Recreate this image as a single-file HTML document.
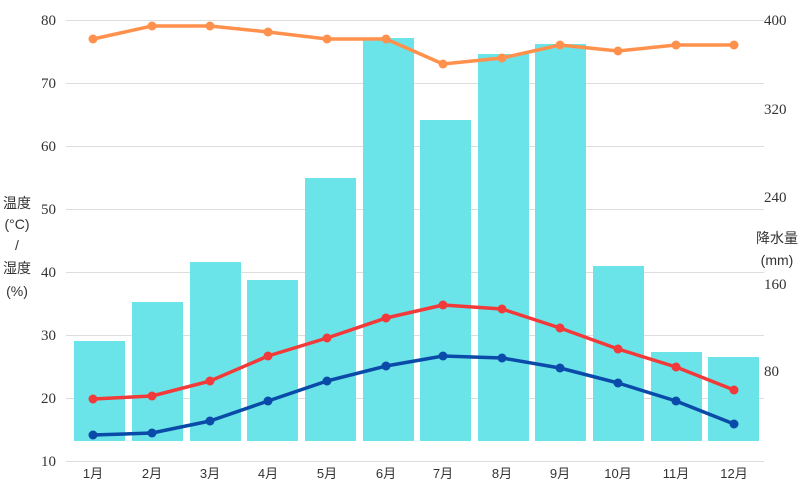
<!DOCTYPE html>
<html><head><meta charset="utf-8"><style>
body{margin:0;background:#fff;}
svg text{font-family:"Liberation Serif","Noto Serif CJK SC",serif;fill:#333;}
.cjk{font-family:"Liberation Sans","Noto Sans CJK JP",sans-serif !important;}
</style></head><body>
<svg width="800" height="494" viewBox="0 0 800 494" xmlns="http://www.w3.org/2000/svg">
<g stroke="#ddd" stroke-width="1">
<line x1="66" x2="764" y1="20.5" y2="20.5"/><line x1="66" x2="764" y1="83.5" y2="83.5"/>
<line x1="66" x2="764" y1="146.5" y2="146.5"/><line x1="66" x2="764" y1="209.5" y2="209.5"/>
<line x1="66" x2="764" y1="272.5" y2="272.5"/><line x1="66" x2="764" y1="335.5" y2="335.5"/>
<line x1="66" x2="764" y1="398.5" y2="398.5"/><line x1="66" x2="764" y1="461.5" y2="461.5"/>
</g>
<g font-size="15" text-anchor="end">
<text x="56" y="25">80</text><text x="56" y="88">70</text><text x="56" y="151">60</text>
<text x="56" y="214">50</text><text x="56" y="277">40</text><text x="56" y="340">30</text>
<text x="56" y="403">20</text><text x="56" y="466">10</text>
</g>
<g font-size="15">
<text x="764" y="25">400</text><text x="764" y="114">320</text><text x="764" y="202">240</text>
<text x="764" y="289">160</text><text x="764" y="376">80</text>
</g>
<g font-size="14" text-anchor="middle" class="cjk">
<text x="17" y="208" class="cjk">温度</text><text x="17" y="229" class="cjk">(°C)</text>
<text x="17" y="250" class="cjk">/</text><text x="17" y="273" class="cjk">湿度</text>
<text x="17" y="296" class="cjk">(%)</text>
<text x="777" y="243" class="cjk">降水量</text><text x="777" y="265" class="cjk">(mm)</text>
</g>
<g fill="#6ae4e8">
<rect x="74" y="341" width="51" height="100"/><rect x="132" y="302" width="51" height="139"/>
<rect x="190" y="262" width="51" height="179"/><rect x="247" y="280" width="51" height="161"/>
<rect x="305" y="178" width="51" height="263"/><rect x="363" y="38" width="51" height="403"/>
<rect x="420" y="120" width="51" height="321"/><rect x="478" y="54" width="51" height="387"/>
<rect x="535" y="44" width="51" height="397"/><rect x="593" y="266" width="51" height="175"/>
<rect x="651" y="352" width="51" height="89"/><rect x="708" y="357" width="51" height="84"/>
</g>
<g font-size="13" text-anchor="middle">
<text x="93" y="478" class="cjk">1月</text><text x="152" y="478" class="cjk">2月</text>
<text x="210" y="478" class="cjk">3月</text><text x="268" y="478" class="cjk">4月</text>
<text x="327" y="478" class="cjk">5月</text><text x="386" y="478" class="cjk">6月</text>
<text x="443" y="478" class="cjk">7月</text><text x="502" y="478" class="cjk">8月</text>
<text x="560" y="478" class="cjk">9月</text><text x="618" y="478" class="cjk">10月</text>
<text x="676" y="478" class="cjk">11月</text><text x="734" y="478" class="cjk">12月</text>
</g>
<g fill="none" stroke-width="3.5" stroke-linejoin="round">
<polyline stroke="#ff914d" points="93,39 152,26 210,26 268,32 327,39 386,39 443,64 502,58 560,45 618,51 676,45 734,45"/>
<polyline stroke="#f23a3a" points="93,399 152,396 210,381 268,356 327,338 386,318 443,305 502,309 560,328 618,349 676,367 734,390"/>
<polyline stroke="#0a4aa8" points="93,435 152,433 210,421 268,401 327,381 386,366 443,356 502,358 560,368 618,383 676,401 734,424"/>
</g>
<g fill="#ff914d">
<circle cx="93" cy="39" r="4.5"/><circle cx="152" cy="26" r="4.5"/><circle cx="210" cy="26" r="4.5"/><circle cx="268" cy="32" r="4.5"/><circle cx="327" cy="39" r="4.5"/><circle cx="386" cy="39" r="4.5"/><circle cx="443" cy="64" r="4.5"/><circle cx="502" cy="58" r="4.5"/><circle cx="560" cy="45" r="4.5"/><circle cx="618" cy="51" r="4.5"/><circle cx="676" cy="45" r="4.5"/><circle cx="734" cy="45" r="4.5"/>
</g>
<g fill="#f23a3a">
<circle cx="93" cy="399" r="4.5"/><circle cx="152" cy="396" r="4.5"/><circle cx="210" cy="381" r="4.5"/><circle cx="268" cy="356" r="4.5"/><circle cx="327" cy="338" r="4.5"/><circle cx="386" cy="318" r="4.5"/><circle cx="443" cy="305" r="4.5"/><circle cx="502" cy="309" r="4.5"/><circle cx="560" cy="328" r="4.5"/><circle cx="618" cy="349" r="4.5"/><circle cx="676" cy="367" r="4.5"/><circle cx="734" cy="390" r="4.5"/>
</g>
<g fill="#0a4aa8">
<circle cx="93" cy="435" r="4.5"/><circle cx="152" cy="433" r="4.5"/><circle cx="210" cy="421" r="4.5"/><circle cx="268" cy="401" r="4.5"/><circle cx="327" cy="381" r="4.5"/><circle cx="386" cy="366" r="4.5"/><circle cx="443" cy="356" r="4.5"/><circle cx="502" cy="358" r="4.5"/><circle cx="560" cy="368" r="4.5"/><circle cx="618" cy="383" r="4.5"/><circle cx="676" cy="401" r="4.5"/><circle cx="734" cy="424" r="4.5"/>
</g>
</svg>
</body></html>
